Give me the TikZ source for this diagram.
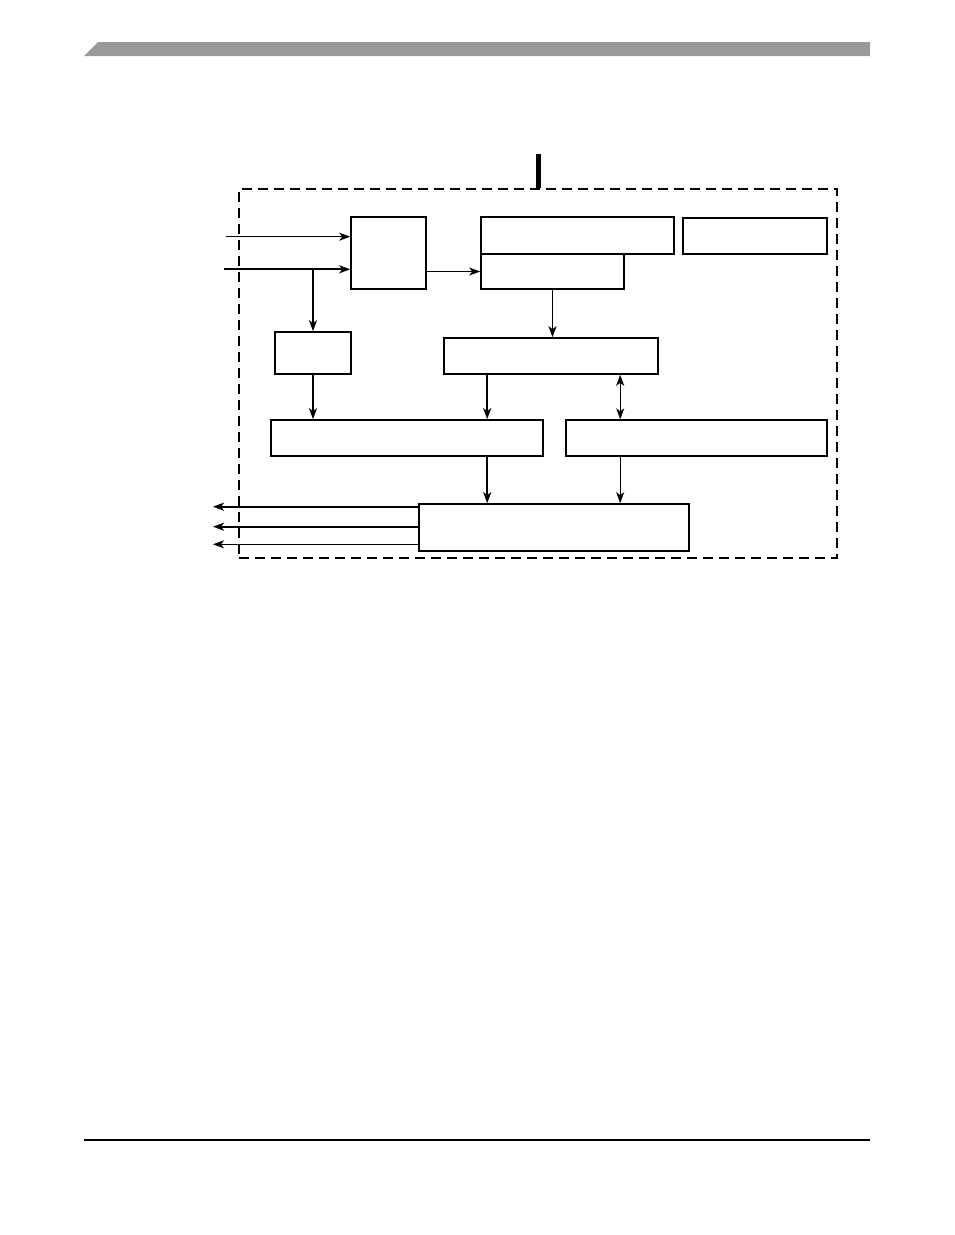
\documentclass[tikz,border=0pt]{standalone}
\usetikzlibrary{arrows.meta}
\begin{document}
\begin{tikzpicture}[x=1pt,y=-1pt,
  box/.style={draw,line width=1.6pt,inner sep=0pt,rectangle},
  thinbox/.style={draw,line width=1.3pt,inner sep=0pt,rectangle},
  tip/.style={-{Stealth[length=11pt,width=8pt,inset=3pt]}},
  dtip/.style={{Stealth[length=11pt,width=8pt,inset=3pt]}-{Stealth[length=11pt,width=8pt,inset=3pt]}},
  thinline/.style={line width=1.1pt},
  thickline/.style={line width=2pt}]
\useasboundingbox (0,0) rectangle (954,1235);
% header and footer
\fill[black!40] (84,56) -- (98,42) -- (870,42) -- (870,56) -- cycle;
\draw[line width=1.5pt] (84,1140) -- (870,1140);
% frame
\node[draw,dash pattern=on 10pt off 6pt,line width=1.6pt,inner sep=0pt,minimum width=598pt,minimum height=369pt] (frame) at (538,373.5) {};
\draw[line width=5pt] (frame.north) -- ++(0,-34);
% boxes
\node[box,minimum width=75pt,minimum height=72pt] (A) at (388.5,253) {};
\node[thinbox,minimum width=193pt,minimum height=37pt] (C1) at (577.5,235.5) {};
\node[box,minimum width=143pt,minimum height=35pt] (C2) at (552.5,271.5) {};
\node[thinbox,minimum width=144pt,minimum height=36pt] (D) at (755,236) {};
\node[box,minimum width=76pt,minimum height=42pt] (B) at (313,353) {};
\node[box,minimum width=214pt,minimum height=36pt] (E) at (551,356) {};
\node[box,minimum width=272pt,minimum height=36pt] (F) at (407,438) {};
\node[thinbox,minimum width=261pt,minimum height=36pt] (G) at (696.5,438) {};
\node[box,minimum width=270pt,minimum height=47pt] (H) at (554,527.5) {};
% inputs
\coordinate (in1) at (226,236.7);
\coordinate (in2) at (224,269.3);
\draw[thinline,tip] (in1) -- (in1 -| A.west);
\draw[thickline,tip] (in2) -- (in2 -| A.west);
\draw[thickline,tip] (in2 -| B.north) -- (B.north);
\draw[thinline,tip] (C2.west -| A.east) -- (C2.west);
\draw[thinline,tip] (C2.south) -- (C2.south |- E.north);
\draw[thickline,tip] (B.south) -- (B.south |- F.north);
\path ([xshift=44pt]E.south west) coordinate (ef);
\path ([xshift=177pt]E.south west) coordinate (eg);
\draw[thickline,tip] (ef) -- (ef |- F.north);
\draw[thinline,dtip] (eg) -- (eg |- G.north);
\draw[thickline,tip] (ef |- F.south) -- (ef |- H.north);
\draw[thinline,tip] (eg |- G.south) -- (eg |- H.north);
% outputs
\coordinate (o1) at (213,506.7);
\coordinate (o2) at (213,526.7);
\coordinate (o3) at (213,544.3);
\draw[thickline,tip] (o1 -| H.west) -- (o1);
\draw[thickline,tip] (o2 -| H.west) -- (o2);
\draw[thinline,tip] (o3 -| H.west) -- (o3);
\end{tikzpicture}
\end{document}
